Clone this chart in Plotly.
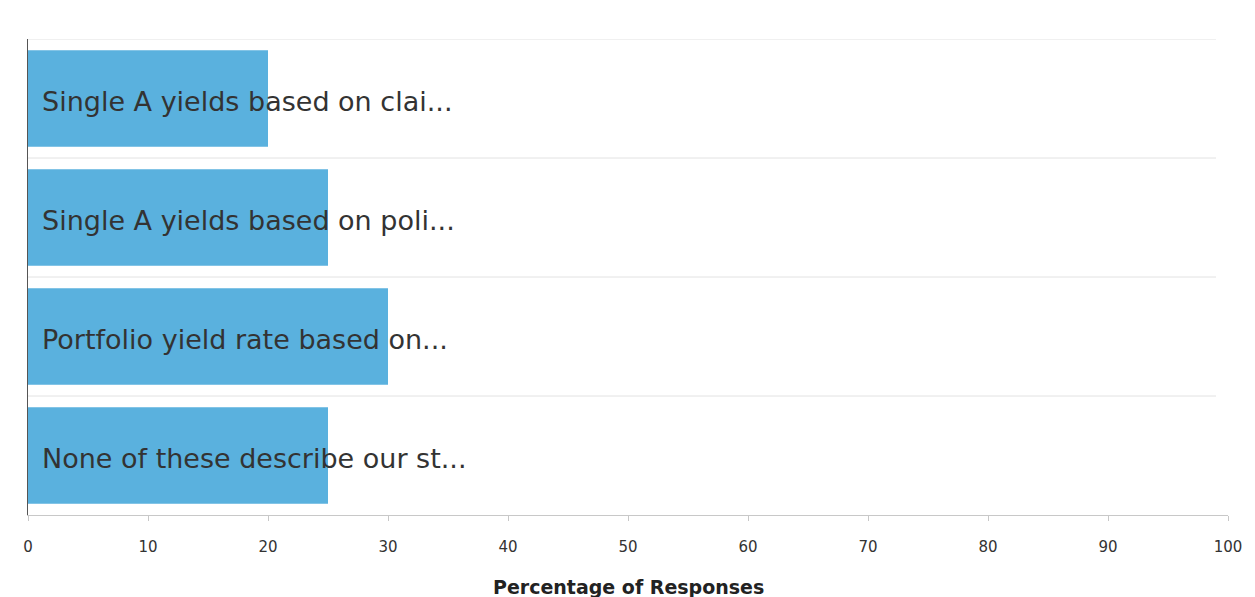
import plotly.graph_objects as go

categories = [
    "Single A yields based on clai...",
    "Single A yields based on poli...",
    "Portfolio yield rate based on...",
    "None of these describe our st...",
]
values = [20, 25, 30, 25]
x_ticks = [0, 10, 20, 30, 40, 50, 60, 70, 80, 90, 100]
x_title = "Percentage of Responses"

ypos = list(range(len(categories)))
FONT = "DejaVu Sans, Verdana, sans-serif"
PLOT_H = 597 - 39 - 82

fig = go.Figure()
fig.add_trace(go.Bar(
    x=values, y=ypos, orientation="h",
    marker=dict(color="#5AB1DE", line=dict(width=0)),
    width=0.81, hoverinfo="x",
))

for i, c in enumerate(categories):
    fig.add_annotation(
        x=0, y=i, xref="x", yref="y", text=c, showarrow=False,
        xanchor="left", yanchor="middle", xshift=12, yshift=-3,
        font=dict(family=FONT, size=27, color="#333333"),
    )

# axis title placed below tick labels
fig.add_annotation(
    x=0.5, y=-72 / PLOT_H, xref="paper", yref="paper",
    text="<b>" + x_title + "</b>", showarrow=False,
    xanchor="center", yanchor="middle",
    font=dict(family=FONT, size=19, color="#222222"),
)

# category separator lines (top edge and between categories)
for b in [i - 0.5 for i in range(len(categories))]:
    fig.add_shape(type="line", xref="x", yref="y", x0=0, x1=99, y0=b, y1=b,
                  line=dict(color="#E2E2E2", width=1), layer="below")

fig.update_layout(
    width=1255, height=597,
    margin=dict(l=28, r=27, t=39, b=82),
    paper_bgcolor="white", plot_bgcolor="white",
    showlegend=False,
    xaxis=dict(
        range=[0, 100], tickvals=x_ticks, ticktext=[str(t) for t in x_ticks],
        showgrid=False, zeroline=False, automargin=False,
        showline=True, linecolor="#C8C8C8", linewidth=1,
        ticks="outside", ticklen=5, tickcolor="#C8C8C8",
        ticklabelstandoff=13,
        tickfont=dict(family=FONT, size=15, color="#333333"),
        fixedrange=True,
    ),
    yaxis=dict(
        range=[3.5, -0.5], showticklabels=False, automargin=False,
        showgrid=False, zeroline=False,
        showline=True, linecolor="#555555", linewidth=1, ticks="",
        fixedrange=True,
    ),
)

fig.write_html("out.html")
